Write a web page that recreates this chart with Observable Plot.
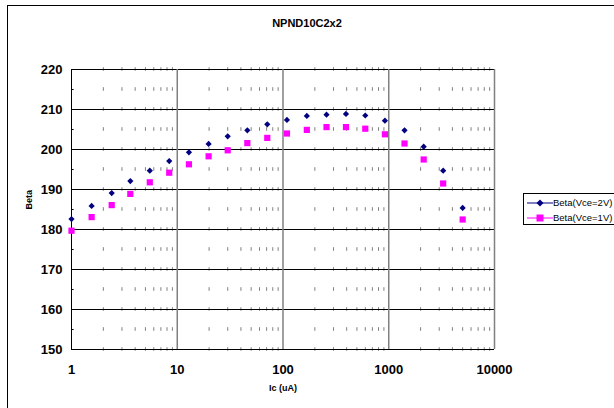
<!DOCTYPE html>
<html>
<head>
<meta charset="utf-8">
<script src="https://cdn.jsdelivr.net/npm/d3@7"></script>
<script src="https://cdn.jsdelivr.net/npm/@observablehq/plot@0.6"></script>
<style>
  html, body { margin: 0; padding: 0; overflow: hidden; background: #fff; }
  #wrap { position: relative; width: 614px; height: 408px; font-family: "Liberation Sans", Arial, sans-serif; }
  #frame { position: absolute; left: 7px; top: 5px; width: 607px; height: 403px; border-left: 1px solid #000; border-top: 1px solid #000; box-sizing: border-box; pointer-events: none; }
  #title { position: absolute; left: 0; width: 614px; top: 17px; text-align: center; font-weight: bold; font-size: 11px; }
  #legend { position: absolute; left: 523px; top: 193px; width: 100px; height: 32px; border: 1px solid #000; box-sizing: border-box; background: #fff; }
  .lrow { position: absolute; left: 0; height: 14px; width: 100px; }
  .lrow svg { position: absolute; left: 2px; top: 0; }
  .lrow span { position: absolute; left: 29px; top: 0; line-height: 14px; font-size: 9.5px; white-space: nowrap; }
</style>
</head>
<body>
<div id="wrap">
  <div id="chart"></div>
  <div id="title">NPND10C2x2</div>
  <div id="legend"></div>
  <div id="frame"></div>
</div>
<script>
const ic = [1, 1.55, 2.4, 3.6, 5.5, 8.4, 12.9, 19.8, 30, 46, 71, 109, 168, 258, 394, 600, 920, 1410, 2140, 3270, 5000];
const beta2V = [182.6, 185.9, 189.1, 192.1, 194.7, 197.1, 199.3, 201.4, 203.3, 204.8, 206.3, 207.4, 208.4, 208.7, 208.9, 208.5, 207.2, 204.8, 200.7, 194.7, 185.4];
const beta1V = [179.7, 183.1, 186.1, 188.9, 191.8, 194.2, 196.3, 198.3, 199.8, 201.6, 202.9, 204.0, 204.9, 205.6, 205.6, 205.2, 203.8, 201.5, 197.5, 191.5, 182.5];
const seriesNames = ["Beta(Vce=2V)", "Beta(Vce=1V)"];
const seriesColors = ["#000080", "#FF00FF"];
const xTicks = [1, 10, 100, 1000, 10000];
const yTicks = [150, 160, 170, 180, 190, 200, 210, 220];
const yMinor = [155, 165, 175, 185, 195, 205, 215];
const dashY = [150, 155, 160, 165, 170, 175, 180, 185, 190, 195, 200, 205, 210, 215, 220];
const xMinor = [2, 3, 4, 5, 6, 7, 8, 9, 20, 30, 40, 50, 60, 70, 80, 90, 200, 300, 400, 500, 600, 700, 800, 900, 2000, 3000, 4000, 5000, 6000, 7000, 8000, 9000];

const dashes = [];
for (const x of xMinor) for (const y of dashY) dashes.push({x, y});
const d2 = ic.map((x, i) => ({x, y: beta2V[i]}));
const d1 = ic.map((x, i) => ({x, y: beta1V[i]}));

const chart = Plot.plot({
  width: 614,
  height: 408,
  marginLeft: 71,
  marginRight: 120,
  marginTop: 69,
  marginBottom: 59,
  style: {background: "transparent", fontFamily: "Liberation Sans, Arial, sans-serif", fontSize: "13px", fontWeight: "bold", color: "#000"},
  x: {type: "log", domain: [1, 10000]},
  y: {domain: [150, 220]},
  marks: [
    Plot.ruleX(dashes, {x: "x", y1: d => d.y - 0.45, y2: d => d.y + 0.45, stroke: "#808080", strokeWidth: 1}),
    Plot.ruleY(yTicks, {stroke: "#000", strokeWidth: 1}),
    Plot.ruleX(xTicks.slice(1), {stroke: "#808080", strokeWidth: 1.5}),
    Plot.ruleX([1], {stroke: "#000", strokeWidth: 1}),
    Plot.ruleY([150], {stroke: "#000", strokeWidth: 1}),
    Plot.ruleY(yMinor, {x1: 1, x2: 1.06, stroke: "#000", strokeWidth: 1}),
    Plot.axisX({ticks: xTicks, tickFormat: d => String(d), tickSize: 0, tickPadding: 15, fontSize: 13, fontWeight: "bold", label: null}),
    Plot.axisY({ticks: yTicks, tickSize: 0, tickPadding: 9, fontSize: 13, fontWeight: "bold", label: null}),
    Plot.text(["Ic (uA)"], {text: d => d, frameAnchor: "bottom", dy: 41, fontSize: 9, fontWeight: "bold"}),
    Plot.text(["Beta"], {text: d => d, frameAnchor: "left", dx: -42, rotate: -90, fontSize: 9, fontWeight: "bold"}),
    Plot.dot(d1, {x: "x", y: "y", symbol: "square", r: 3.5, fill: seriesColors[1], stroke: "none"}),
    Plot.dot(d2, {x: "x", y: "y", symbol: "diamond2", r: 2.8, fill: seriesColors[0], stroke: "none"})
  ]
});
document.getElementById("chart").appendChild(chart);

// legend
const legend = document.getElementById("legend");
const symbols = ["diamond", "square"];
seriesNames.forEach((name, i) => {
  const row = document.createElement("div");
  row.className = "lrow";
  row.style.top = (i === 0 ? 2 : 17) + "px";
  const svgNS = "http://www.w3.org/2000/svg";
  const svg = document.createElementNS(svgNS, "svg");
  svg.setAttribute("width", 28);
  svg.setAttribute("height", 14);
  const line = document.createElementNS(svgNS, "line");
  line.setAttribute("x1", 1); line.setAttribute("x2", 27);
  line.setAttribute("y1", 7); line.setAttribute("y2", 7);
  line.setAttribute("stroke", seriesColors[i]); line.setAttribute("stroke-width", 1);
  svg.appendChild(line);
  const m = document.createElementNS(svgNS, "path");
  m.setAttribute("d", symbols[i] === "diamond" ? "M14,3.5L17.5,7L14,10.5L10.5,7Z" : "M10.5,3.5H17.5V10.5H10.5Z");
  m.setAttribute("fill", seriesColors[i]);
  svg.appendChild(m);
  row.appendChild(svg);
  const span = document.createElement("span");
  span.textContent = name;
  row.appendChild(span);
  legend.appendChild(row);
});
</script>
</body>
</html>
